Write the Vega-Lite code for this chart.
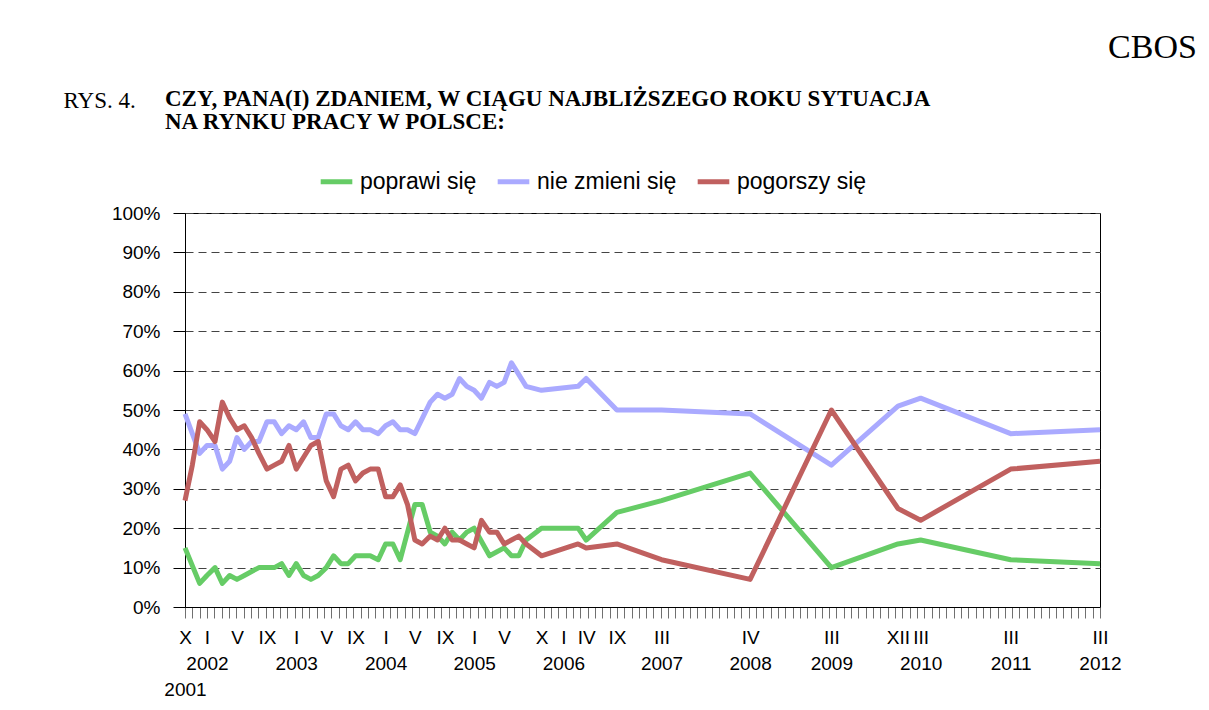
{
  "$schema": "https://vega.github.io/schema/vega-lite/v6.json",
  "width": 915,
  "height": 394,
  "autosize": {"type": "none"},
  "padding": {"left": 185, "top": 213, "right": 109, "bottom": 103},
  "background": "white",
  "title": {
    "text": ["CZY, PANA(I) ZDANIEM, W CIĄGU NAJBLIŻSZEGO ROKU SYTUACJA", "NA RYNKU  PRACY W POLSCE:"],
    "anchor": "start",
    "frame": "group",
    "dx": -20,
    "offset": 0,
    "dy": 104,
    "font": "Liberation Serif",
    "fontSize": 23,
    "fontWeight": "bold",
    "lineHeight": 23,
    "color": "black"
  },
  "config": {
    "view": {"stroke": "black", "strokeWidth": 1},
    "font": "Liberation Sans"
  },
  "data": {
    "values": [
      {"series": "poprawi się", "pos": 0, "pct": 15},
      {"series": "poprawi się", "pos": 2.0, "pct": 6},
      {"series": "poprawi się", "pos": 3.0, "pct": 8},
      {"series": "poprawi się", "pos": 4.1, "pct": 10},
      {"series": "poprawi się", "pos": 5.1, "pct": 6},
      {"series": "poprawi się", "pos": 6.1, "pct": 8},
      {"series": "poprawi się", "pos": 7.1, "pct": 7},
      {"series": "poprawi się", "pos": 8.1, "pct": 8},
      {"series": "poprawi się", "pos": 9.1, "pct": 9},
      {"series": "poprawi się", "pos": 10.1, "pct": 10},
      {"series": "poprawi się", "pos": 11.2, "pct": 10},
      {"series": "poprawi się", "pos": 12.2, "pct": 10},
      {"series": "poprawi się", "pos": 13.2, "pct": 11},
      {"series": "poprawi się", "pos": 14.2, "pct": 8},
      {"series": "poprawi się", "pos": 15.2, "pct": 11},
      {"series": "poprawi się", "pos": 16.2, "pct": 8},
      {"series": "poprawi się", "pos": 17.2, "pct": 7},
      {"series": "poprawi się", "pos": 18.2, "pct": 8},
      {"series": "poprawi się", "pos": 19.3, "pct": 10},
      {"series": "poprawi się", "pos": 20.3, "pct": 13},
      {"series": "poprawi się", "pos": 21.3, "pct": 11},
      {"series": "poprawi się", "pos": 22.3, "pct": 11},
      {"series": "poprawi się", "pos": 23.3, "pct": 13},
      {"series": "poprawi się", "pos": 24.3, "pct": 13},
      {"series": "poprawi się", "pos": 25.3, "pct": 13},
      {"series": "poprawi się", "pos": 26.4, "pct": 12},
      {"series": "poprawi się", "pos": 27.4, "pct": 16},
      {"series": "poprawi się", "pos": 28.4, "pct": 16},
      {"series": "poprawi się", "pos": 29.4, "pct": 12},
      {"series": "poprawi się", "pos": 30.4, "pct": 19},
      {"series": "poprawi się", "pos": 31.4, "pct": 26},
      {"series": "poprawi się", "pos": 32.4, "pct": 26},
      {"series": "poprawi się", "pos": 33.5, "pct": 19},
      {"series": "poprawi się", "pos": 34.5, "pct": 18},
      {"series": "poprawi się", "pos": 35.5, "pct": 16},
      {"series": "poprawi się", "pos": 36.5, "pct": 19},
      {"series": "poprawi się", "pos": 37.5, "pct": 17},
      {"series": "poprawi się", "pos": 38.5, "pct": 19},
      {"series": "poprawi się", "pos": 39.5, "pct": 20},
      {"series": "poprawi się", "pos": 41.6, "pct": 13},
      {"series": "poprawi się", "pos": 43.6, "pct": 15},
      {"series": "poprawi się", "pos": 44.6, "pct": 13},
      {"series": "poprawi się", "pos": 45.6, "pct": 13},
      {"series": "poprawi się", "pos": 46.6, "pct": 17},
      {"series": "poprawi się", "pos": 48.7, "pct": 20},
      {"series": "poprawi się", "pos": 53.7, "pct": 20},
      {"series": "poprawi się", "pos": 54.8, "pct": 17},
      {"series": "poprawi się", "pos": 59, "pct": 24},
      {"series": "poprawi się", "pos": 65.1, "pct": 27},
      {"series": "poprawi się", "pos": 77.2, "pct": 34},
      {"series": "poprawi się", "pos": 88.3, "pct": 10},
      {"series": "poprawi się", "pos": 97.4, "pct": 16},
      {"series": "poprawi się", "pos": 100.5, "pct": 17},
      {"series": "poprawi się", "pos": 112.8, "pct": 12},
      {"series": "poprawi się", "pos": 125, "pct": 11},

      {"series": "nie zmieni się", "pos": 0, "pct": 49},
      {"series": "nie zmieni się", "pos": 2.0, "pct": 39},
      {"series": "nie zmieni się", "pos": 3.0, "pct": 41},
      {"series": "nie zmieni się", "pos": 4.1, "pct": 41},
      {"series": "nie zmieni się", "pos": 5.1, "pct": 35},
      {"series": "nie zmieni się", "pos": 6.1, "pct": 37},
      {"series": "nie zmieni się", "pos": 7.1, "pct": 43},
      {"series": "nie zmieni się", "pos": 8.1, "pct": 40},
      {"series": "nie zmieni się", "pos": 9.1, "pct": 42},
      {"series": "nie zmieni się", "pos": 10.1, "pct": 42},
      {"series": "nie zmieni się", "pos": 11.2, "pct": 47},
      {"series": "nie zmieni się", "pos": 12.2, "pct": 47},
      {"series": "nie zmieni się", "pos": 13.2, "pct": 44},
      {"series": "nie zmieni się", "pos": 14.2, "pct": 46},
      {"series": "nie zmieni się", "pos": 15.2, "pct": 45},
      {"series": "nie zmieni się", "pos": 16.2, "pct": 47},
      {"series": "nie zmieni się", "pos": 17.2, "pct": 43},
      {"series": "nie zmieni się", "pos": 18.2, "pct": 43},
      {"series": "nie zmieni się", "pos": 19.3, "pct": 49},
      {"series": "nie zmieni się", "pos": 20.3, "pct": 49},
      {"series": "nie zmieni się", "pos": 21.3, "pct": 46},
      {"series": "nie zmieni się", "pos": 22.3, "pct": 45},
      {"series": "nie zmieni się", "pos": 23.3, "pct": 47},
      {"series": "nie zmieni się", "pos": 24.3, "pct": 45},
      {"series": "nie zmieni się", "pos": 25.3, "pct": 45},
      {"series": "nie zmieni się", "pos": 26.4, "pct": 44},
      {"series": "nie zmieni się", "pos": 27.4, "pct": 46},
      {"series": "nie zmieni się", "pos": 28.4, "pct": 47},
      {"series": "nie zmieni się", "pos": 29.4, "pct": 45},
      {"series": "nie zmieni się", "pos": 30.4, "pct": 45},
      {"series": "nie zmieni się", "pos": 31.4, "pct": 44},
      {"series": "nie zmieni się", "pos": 33.5, "pct": 52},
      {"series": "nie zmieni się", "pos": 34.5, "pct": 54},
      {"series": "nie zmieni się", "pos": 35.5, "pct": 53},
      {"series": "nie zmieni się", "pos": 36.5, "pct": 54},
      {"series": "nie zmieni się", "pos": 37.5, "pct": 58},
      {"series": "nie zmieni się", "pos": 38.5, "pct": 56},
      {"series": "nie zmieni się", "pos": 39.5, "pct": 55},
      {"series": "nie zmieni się", "pos": 40.5, "pct": 53},
      {"series": "nie zmieni się", "pos": 41.6, "pct": 57},
      {"series": "nie zmieni się", "pos": 42.6, "pct": 56},
      {"series": "nie zmieni się", "pos": 43.6, "pct": 57},
      {"series": "nie zmieni się", "pos": 44.6, "pct": 62},
      {"series": "nie zmieni się", "pos": 46.6, "pct": 56},
      {"series": "nie zmieni się", "pos": 48.7, "pct": 55},
      {"series": "nie zmieni się", "pos": 53.7, "pct": 56},
      {"series": "nie zmieni się", "pos": 54.8, "pct": 58},
      {"series": "nie zmieni się", "pos": 59, "pct": 50},
      {"series": "nie zmieni się", "pos": 65.1, "pct": 50},
      {"series": "nie zmieni się", "pos": 77.2, "pct": 49},
      {"series": "nie zmieni się", "pos": 88.3, "pct": 36},
      {"series": "nie zmieni się", "pos": 97.4, "pct": 51},
      {"series": "nie zmieni się", "pos": 100.5, "pct": 53},
      {"series": "nie zmieni się", "pos": 112.8, "pct": 44},
      {"series": "nie zmieni się", "pos": 125, "pct": 45},

      {"series": "pogorszy się", "pos": 0, "pct": 27},
      {"series": "pogorszy się", "pos": 1.0, "pct": 36},
      {"series": "pogorszy się", "pos": 2.0, "pct": 47},
      {"series": "pogorszy się", "pos": 3.0, "pct": 45},
      {"series": "pogorszy się", "pos": 4.1, "pct": 42},
      {"series": "pogorszy się", "pos": 5.1, "pct": 52},
      {"series": "pogorszy się", "pos": 6.1, "pct": 48},
      {"series": "pogorszy się", "pos": 7.1, "pct": 45},
      {"series": "pogorszy się", "pos": 8.1, "pct": 46},
      {"series": "pogorszy się", "pos": 9.1, "pct": 43},
      {"series": "pogorszy się", "pos": 10.1, "pct": 39},
      {"series": "pogorszy się", "pos": 11.2, "pct": 35},
      {"series": "pogorszy się", "pos": 12.2, "pct": 36},
      {"series": "pogorszy się", "pos": 13.2, "pct": 37},
      {"series": "pogorszy się", "pos": 14.2, "pct": 41},
      {"series": "pogorszy się", "pos": 15.2, "pct": 35},
      {"series": "pogorszy się", "pos": 16.2, "pct": 38},
      {"series": "pogorszy się", "pos": 17.2, "pct": 41},
      {"series": "pogorszy się", "pos": 18.2, "pct": 42},
      {"series": "pogorszy się", "pos": 19.3, "pct": 32},
      {"series": "pogorszy się", "pos": 20.3, "pct": 28},
      {"series": "pogorszy się", "pos": 21.3, "pct": 35},
      {"series": "pogorszy się", "pos": 22.3, "pct": 36},
      {"series": "pogorszy się", "pos": 23.3, "pct": 32},
      {"series": "pogorszy się", "pos": 24.3, "pct": 34},
      {"series": "pogorszy się", "pos": 25.3, "pct": 35},
      {"series": "pogorszy się", "pos": 26.4, "pct": 35},
      {"series": "pogorszy się", "pos": 27.4, "pct": 28},
      {"series": "pogorszy się", "pos": 28.4, "pct": 28},
      {"series": "pogorszy się", "pos": 29.4, "pct": 31},
      {"series": "pogorszy się", "pos": 30.4, "pct": 26},
      {"series": "pogorszy się", "pos": 31.4, "pct": 17},
      {"series": "pogorszy się", "pos": 32.4, "pct": 16},
      {"series": "pogorszy się", "pos": 33.5, "pct": 18},
      {"series": "pogorszy się", "pos": 34.5, "pct": 17},
      {"series": "pogorszy się", "pos": 35.5, "pct": 20},
      {"series": "pogorszy się", "pos": 36.5, "pct": 17},
      {"series": "pogorszy się", "pos": 37.5, "pct": 17},
      {"series": "pogorszy się", "pos": 38.5, "pct": 16},
      {"series": "pogorszy się", "pos": 39.5, "pct": 15},
      {"series": "pogorszy się", "pos": 40.5, "pct": 22},
      {"series": "pogorszy się", "pos": 41.6, "pct": 19},
      {"series": "pogorszy się", "pos": 42.6, "pct": 19},
      {"series": "pogorszy się", "pos": 43.6, "pct": 16},
      {"series": "pogorszy się", "pos": 44.6, "pct": 17},
      {"series": "pogorszy się", "pos": 45.6, "pct": 18},
      {"series": "pogorszy się", "pos": 46.6, "pct": 16},
      {"series": "pogorszy się", "pos": 48.7, "pct": 13},
      {"series": "pogorszy się", "pos": 53.7, "pct": 16},
      {"series": "pogorszy się", "pos": 54.8, "pct": 15},
      {"series": "pogorszy się", "pos": 59, "pct": 16},
      {"series": "pogorszy się", "pos": 65.1, "pct": 12},
      {"series": "pogorszy się", "pos": 77.2, "pct": 7},
      {"series": "pogorszy się", "pos": 88.3, "pct": 50},
      {"series": "pogorszy się", "pos": 97.4, "pct": 25},
      {"series": "pogorszy się", "pos": 100.5, "pct": 22},
      {"series": "pogorszy się", "pos": 112.8, "pct": 35},
      {"series": "pogorszy się", "pos": 125, "pct": 37}
    ]
  },
  "mark": {"type": "line", "strokeWidth": 5, "strokeJoin": "round", "strokeCap": "butt"},
  "encoding": {
    "x": {
      "field": "pos",
      "type": "quantitative",
      "scale": {"domain": [0, 125], "nice": false, "zero": false},
      "axis": {
        "values": [0,1,2,3,4,5,6,7,8,9,10,11,12,13,14,15,16,17,18,19,20,21,22,23,24,25,26,27,28,29,30,31,32,33,34,35,36,37,38,39,40,41,42,43,44,45,46,47,48,49,50,51,52,53,54,55,56,57,58,59,60,61,62,63,64,65,66,67,68,69,70,71,72,73,74,75,76,77,78,79,80,81,82,83,84,85,86,87,88,89,90,91,92,93,94,95,96,97,98,99,100,101,102,103,104,105,106,107,108,109,110,111,112,113,114,115,116,117,118,119,120,121,122,123,124,125,0.001,7.1,11.2,15.2,19.3,23.3,27.4,31.4,35.5,39.5,43.6,48.7,51.7,54.8,65.1,77.2,88.3,97.4,100.5,112.8],
        "labelExpr": "datum.value == 0 ? 'X' : datum.value == 0.001 ? '2001' : datum.value == 3 ? ['I', '2002'] : datum.value == 7.1 ? 'V' : datum.value == 11.2 ? 'IX' : datum.value == 15.2 ? ['I', '2003'] : datum.value == 19.3 ? 'V' : datum.value == 23.3 ? 'IX' : datum.value == 27.4 ? ['I', '2004'] : datum.value == 31.4 ? 'V' : datum.value == 35.5 ? 'IX' : datum.value == 39.5 ? ['I', '2005'] : datum.value == 43.6 ? 'V' : datum.value == 48.7 ? 'X' : datum.value == 51.7 ? ['I', '2006'] : datum.value == 54.8 ? 'IV' : datum.value == 59 ? 'IX' : datum.value == 65.1 ? ['III', '2007'] : datum.value == 77.2 ? ['IV', '2008'] : datum.value == 88.3 ? ['III', '2009'] : datum.value == 97.4 ? 'XII' : datum.value == 100.5 ? ['III', '2010'] : datum.value == 112.8 ? ['III', '2011'] : datum.value == 125 ? ['III', '2012'] : ''",
        "grid": false,
        "domainColor": "black",
        "tickColor": "#707070",
        "tickSize": 11,
        "tickOpacity": {"condition": {"test": "datum.value % 1 != 0", "value": 0}, "value": 1},
        "labelFont": "Liberation Sans",
        "labelFontSize": 19,
        "labelColor": "black",
        "labelLineHeight": 26,
        "labelPadding": {"condition": {"test": "datum.value == 0.001", "value": 62}, "value": 10},
        "labelAlign": "center",
        "labelBaseline": "top",
        "labelFlush": false,
        "labelOverlap": false,
        "labelBound": false,
        "title": "CBOS",
        "titleX": 967,
        "titleY": -560,
        "titleAlign": "center",
        "titleBaseline": "middle",
        "titleFont": "Liberation Serif",
        "titleFontSize": 34,
        "titleFontWeight": "normal",
        "titleColor": "black"
      }
    },
    "y": {
      "field": "pct",
      "type": "quantitative",
      "scale": {"domain": [0, 100], "nice": false},
      "axis": {
        "values": [0, 10, 20, 30, 40, 50, 60, 70, 80, 90, 100],
        "labelExpr": "datum.value + '%'",
        "grid": true,
        "gridDash": [8, 5],
        "gridColor": "#444444",
        "gridWidth": 1,
        "domainColor": "black",
        "tickColor": "black",
        "tickSize": 12,
        "labelFont": "Liberation Sans",
        "labelFontSize": 19,
        "labelColor": "black",
        "labelPadding": 13,
        "title": "RYS. 4.",
        "titleAngle": 0,
        "titleX": -122,
        "titleY": -106,
        "titleAlign": "left",
        "titleBaseline": "alphabetic",
        "titleFont": "Liberation Serif",
        "titleFontSize": 23,
        "titleFontWeight": "normal",
        "titleColor": "black"
      }
    },
    "color": {
      "field": "series",
      "type": "nominal",
      "scale": {"domain": ["poprawi się", "nie zmieni się", "pogorszy się"], "range": ["#66CC66", "#AAAAFF", "#C0605F"]},
      "legend": {
        "orient": "none",
        "legendX": 133,
        "legendY": -50,
        "direction": "horizontal",
        "title": null,
        "padding": 0,
        "symbolType": "stroke",
        "symbolSize": 1000,
        "symbolStrokeWidth": 5,
        "labelFont": "Liberation Sans",
        "labelFontSize": 23,
        "labelColor": "black",
        "labelOffset": 5,
        "columnPadding": 10
      }
    }
  }
}
